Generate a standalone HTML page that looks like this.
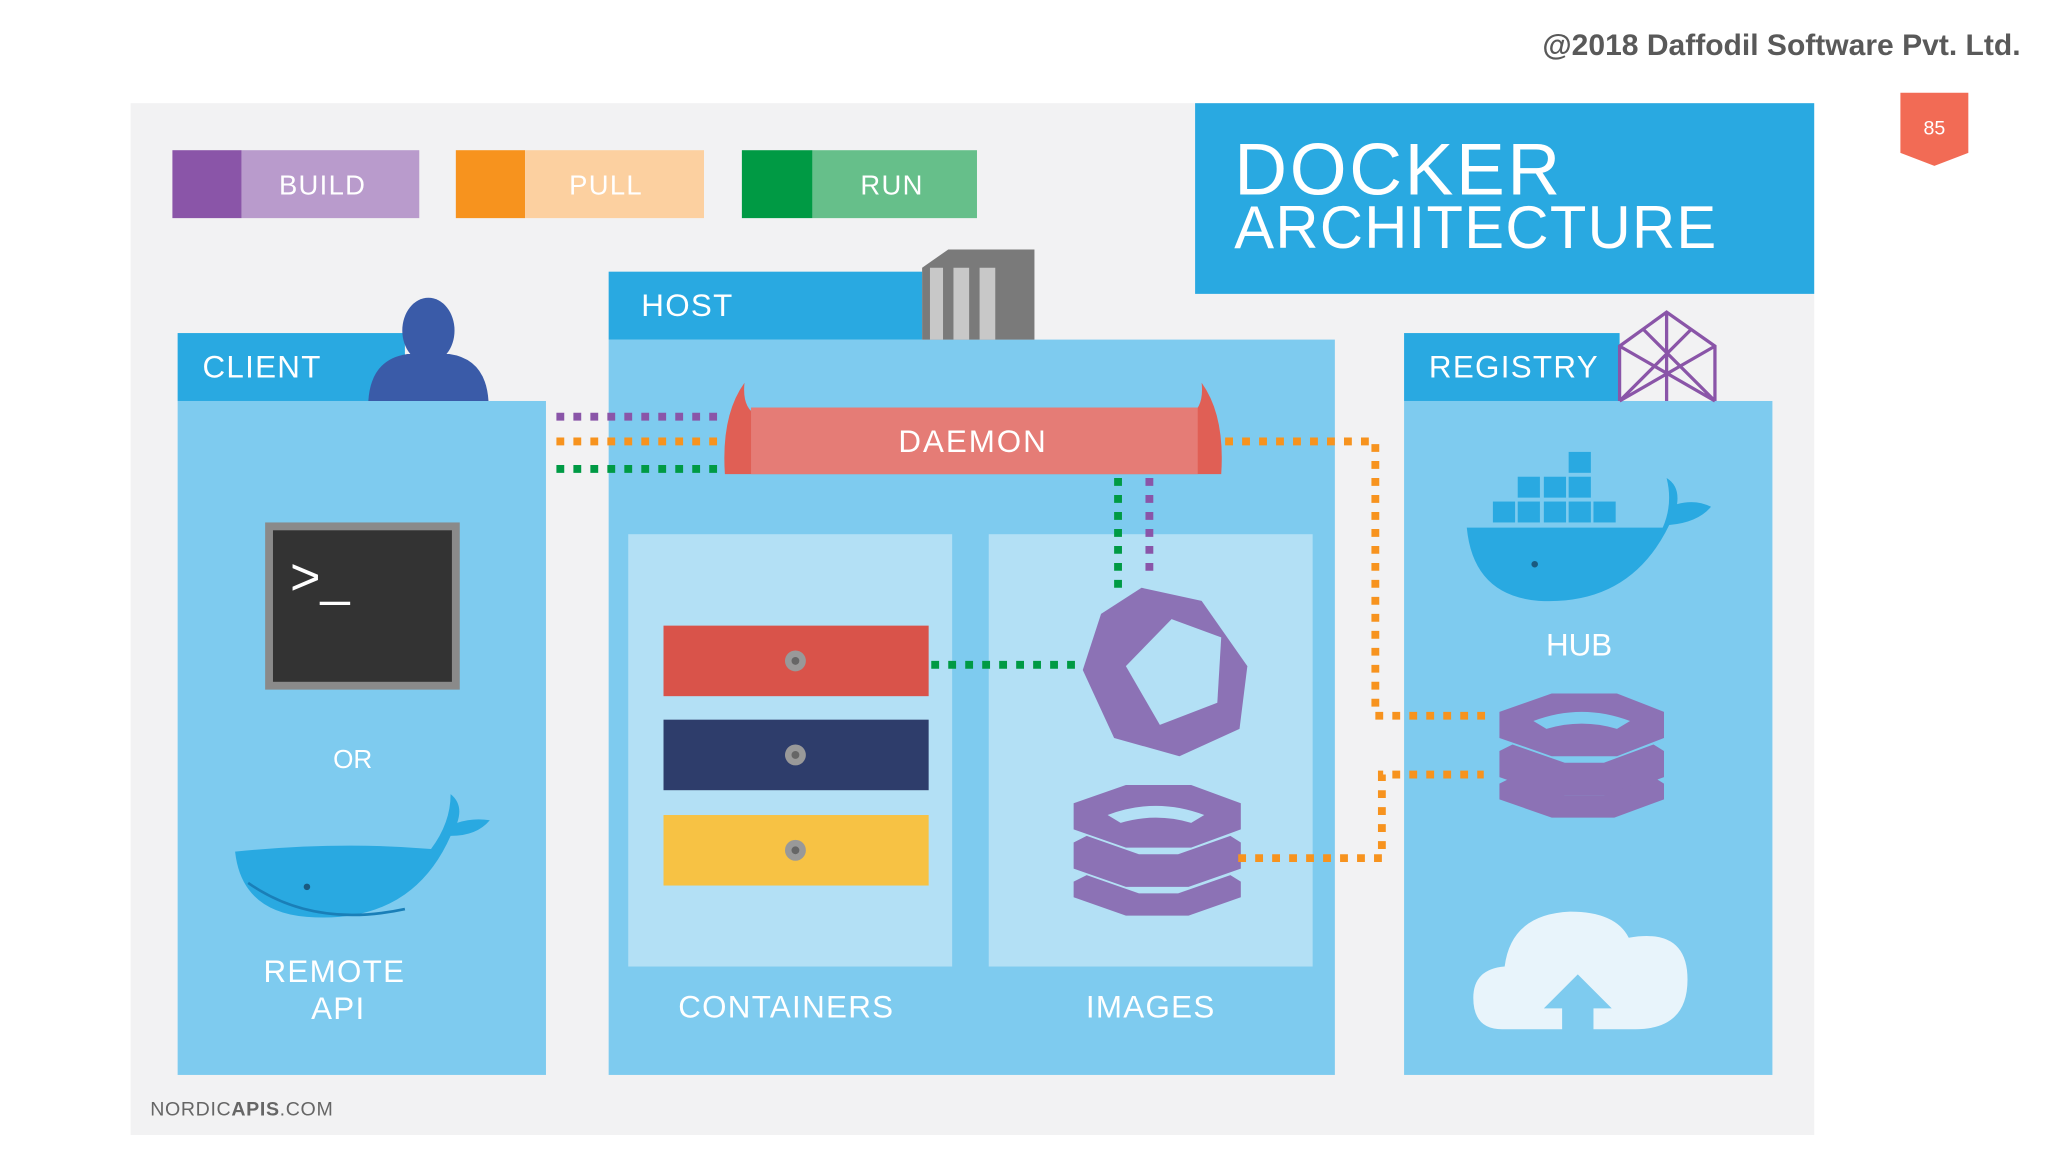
<!DOCTYPE html>
<html><head><meta charset="utf-8"><style>
html,body{margin:0;padding:0;background:#fff;width:2048px;height:1152px;overflow:hidden}
svg{display:block}
text{font-family:"Liberation Sans",sans-serif}
</style></head><body>
<svg width="2048" height="1152" viewBox="0 0 1568 882" xmlns="http://www.w3.org/2000/svg">
<rect width="1568" height="882" fill="#fff"/>
<text x="1547" y="42" text-anchor="end" font-size="23" font-weight="bold" fill="#595959">@2018 Daffodil Software Pvt. Ltd.</text>
<path d="M1455 71h52v46l-26 10l-26-10z" fill="#f26b55"/>
<text x="1481" y="103" text-anchor="middle" font-size="15" fill="#fff">85</text>
<rect x="100" y="79" width="1289" height="790" fill="#f2f2f3"/>
<rect x="132" y="115" width="53" height="52" fill="#8a55a8"/><rect x="185" y="115" width="136" height="52" fill="#b99bcc"/>
<text x="247" y="149" text-anchor="middle" font-size="21" fill="#fff" letter-spacing="1">BUILD</text>
<rect x="349" y="115" width="53" height="52" fill="#f7931e"/><rect x="402" y="115" width="137" height="52" fill="#fcd0a0"/>
<text x="464" y="149" text-anchor="middle" font-size="21" fill="#fff" letter-spacing="1">PULL</text>
<rect x="568" y="115" width="54" height="52" fill="#009a44"/><rect x="622" y="115" width="126" height="52" fill="#66bf8a"/>
<text x="683" y="149" text-anchor="middle" font-size="21" fill="#fff" letter-spacing="1">RUN</text>
<rect x="915" y="79" width="474" height="146" fill="#29a9e1"/>
<text x="945" y="149" font-size="56" fill="#fff" letter-spacing="2">DOCKER</text>
<text x="945" y="190" font-size="46" fill="#fff" letter-spacing="1" textLength="370" lengthAdjust="spacingAndGlyphs">ARCHITECTURE</text>
<rect x="136" y="307" width="282" height="516" fill="#7ecbef"/>
<rect x="136" y="255" width="174" height="52" fill="#29a9e1"/>
<text x="155" y="289" font-size="24" fill="#fff" letter-spacing="1">CLIENT</text>
<ellipse cx="328" cy="253" rx="20" ry="25" fill="#3a5ba8"/>
<path d="M282 307q2-32 30-36h32q28 4 30 36z" fill="#3a5ba8"/>
<rect x="203" y="400" width="149" height="128" fill="#8a8a8a"/><rect x="209" y="406" width="137" height="116" fill="#333"/>
<text x="222" y="455" font-size="40" fill="#fff" font-family="Liberation Mono">&gt;_</text>
<text x="270" y="588" text-anchor="middle" font-size="20" fill="#fff">OR</text>
<path d="M180 652q80 -8 150 -2q15-20 15-42q10 8 5 22q12-4 25-2q-10 12-30 12q-30 68-110 62q-50-4-55-50z" fill="#29a9e1"/>
<path d="M190 676q50 35 120 20" stroke="#1a7fb8" stroke-width="2" fill="none"/>
<circle cx="235" cy="679" r="2.5" fill="#1a5a80"/>
<text x="256" y="752" text-anchor="middle" font-size="24" fill="#fff" letter-spacing="1">REMOTE</text>
<text x="259" y="780" text-anchor="middle" font-size="24" fill="#fff" letter-spacing="1">API</text>
<rect x="466" y="260" width="556" height="563" fill="#7ecbef"/>
<rect x="466" y="208" width="240" height="52" fill="#29a9e1"/>
<text x="491" y="242" font-size="24" fill="#fff" letter-spacing="1">HOST</text>
<path d="M706 205l20-14h66v69h-86z" fill="#7a7a7a"/>
<rect x="712" y="205" width="10" height="55" fill="#c8c8c8"/><rect x="730" y="205" width="12" height="55" fill="#c8c8c8"/><rect x="750" y="205" width="12" height="55" fill="#c8c8c8"/>
<rect x="481" y="409" width="248" height="331" fill="#b3e0f5"/>
<rect x="757" y="409" width="248" height="331" fill="#b3e0f5"/>
<path d="M555 363q-3-45 15-70q-2 20 10 25h330q12-5 10-25q18 25 15 70z" fill="#e05f55"/>
<rect x="575" y="312" width="342" height="51" fill="#e57c76"/>
<text x="745" y="346" text-anchor="middle" font-size="24" fill="#fff" letter-spacing="1.5">DAEMON</text>
<rect x="508" y="479" width="203" height="54" fill="#d9534a"/>
<rect x="508" y="551" width="203" height="54" fill="#2e3d6b"/>
<rect x="508" y="624" width="203" height="54" fill="#f7c244"/>
<g fill="#999"><circle cx="609" cy="506" r="8"/><circle cx="609" cy="578" r="8"/><circle cx="609" cy="651" r="8"/></g>
<g fill="#666"><circle cx="609" cy="506" r="3"/><circle cx="609" cy="578" r="3"/><circle cx="609" cy="651" r="3"/></g>
<path d="M874 450l46 10 35 50-6 48-46 21-50-14-24-52 14-43z" fill="#8c72b5"/>
<path d="M897 474l38 14-3 50-44 17-26-45z" fill="#b3e0f5"/>
<g fill="#8c72b5">
<path d="M822 615l40-14h50l38 14v20l-38 14h-50l-40-14z"/>
<path d="M822 645l10-5 40 14h30l40-14 8 5v20l-40 14h-48l-40-14z"/>
<path d="M822 675l10-5 40 14h30l40-14 8 5v12l-40 14h-48l-40-14z"/>
</g>
<path d="M848 624q37-14 74 0l-10 6q-27-8-54 0z" fill="#b3e0f5"/>
<text x="602" y="779" text-anchor="middle" font-size="24" fill="#fff" letter-spacing="1">CONTAINERS</text>
<text x="881" y="779" text-anchor="middle" font-size="24" fill="#fff" letter-spacing="1">IMAGES</text>
<rect x="1075" y="307" width="282" height="516" fill="#7ecbef"/>
<rect x="1075" y="255" width="165" height="52" fill="#29a9e1"/>
<text x="1094" y="289" font-size="24" fill="#fff" letter-spacing="1">REGISTRY</text>
<g stroke="#8a55a8" stroke-width="2.5" fill="none"><path d="M1240 307v-42l36-26 37 26v42M1240 265l73 42M1313 265l-73 42M1258 252l55 55M1295 252l-55 55M1276 239v68"/></g>
<g fill="#29a9e1">
<rect x="1201" y="346" width="17" height="16"/><rect x="1162" y="365" width="17" height="16"/><rect x="1182" y="365" width="17" height="16"/><rect x="1201" y="365" width="17" height="16"/>
<rect x="1143" y="384" width="17" height="16"/><rect x="1162" y="384" width="17" height="16"/><rect x="1182" y="384" width="17" height="16"/><rect x="1201" y="384" width="17" height="16"/><rect x="1220" y="384" width="17" height="16"/>
<path d="M1123 404h150q8-18 3-38q10 6 8 20q14-4 26 2q-10 12-32 14q-30 62-100 58q-50-4-55-56z"/>
</g>
<circle cx="1175" cy="432" r="2.5" fill="#1a5a80"/>
<text x="1209" y="502" text-anchor="middle" font-size="24" fill="#fff">HUB</text>
<g fill="#8c72b5">
<path d="M1148 545l40-14h50l36 14v20l-36 14h-50l-40-14z"/>
<path d="M1148 575l10-5 40 14h30l38-14 8 5v20l-38 14h-48l-40-14z"/>
<path d="M1148 600l10-5 40 14h30l38-14 8 5v12l-38 14h-48l-40-14z"/>
</g>
<path d="M1174 552q37-14 74 0l-10 6q-27-8-54 0z" fill="#7ecbef"/>
<path d="M1150 788q-22 0-22-24q0-22 24-24q5-40 50-42q35 0 45 20q45-8 45 32q0 38-40 38z" fill="#e8f4fb"/>
<path d="M1182 772l26-26 26 26h-14v18h-24v-18z" fill="#7ecbef"/>
<g fill="none" stroke-width="6" stroke-dasharray="6 7">
<path d="M426 319h129" stroke="#8a55a8"/>
<path d="M426 338h129" stroke="#f7931e"/>
<path d="M426 359h129" stroke="#009a44"/>
<path d="M938 338h115v210h85" stroke="#f7931e"/>
<path d="M948 657h110v-64h78" stroke="#f7931e"/>
<path d="M856 366v84" stroke="#009a44"/>
<path d="M880 366v72" stroke="#8a55a8"/>
<path d="M713 509h110" stroke="#009a44"/>
</g>
<text x="115" y="854" font-size="15" fill="#666" letter-spacing="0.5">NORDIC<tspan font-weight="bold">APIS</tspan>.COM</text>
</svg>
</body></html>
